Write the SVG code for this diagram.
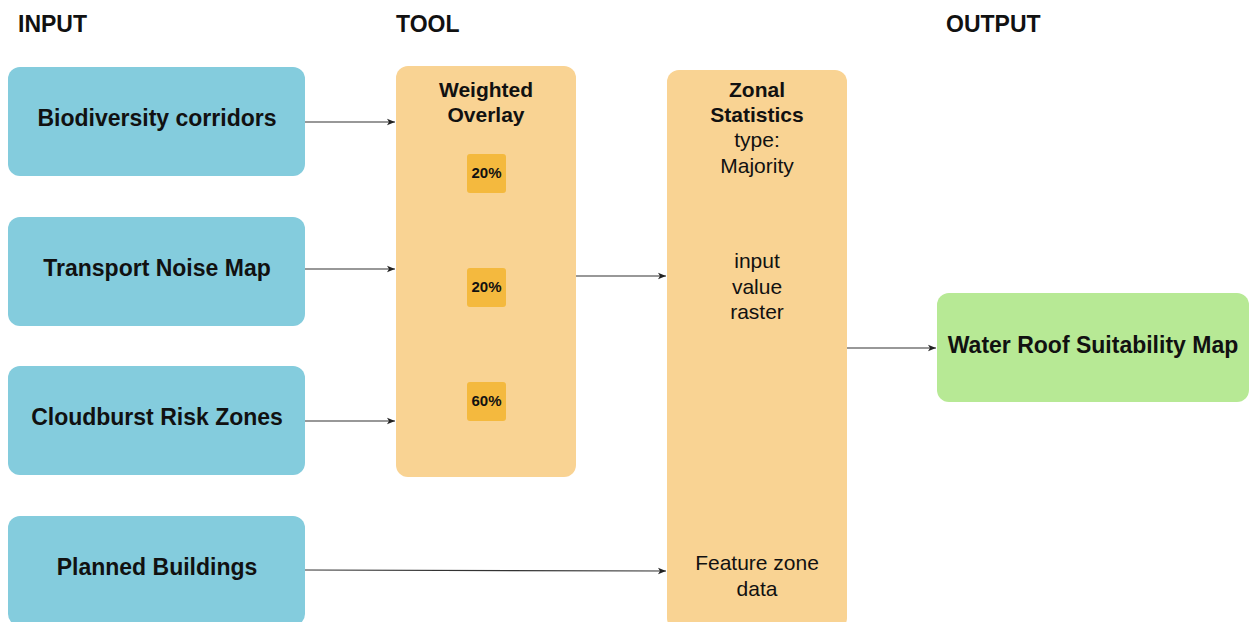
<svg xmlns="http://www.w3.org/2000/svg" width="1252" height="622" viewBox="0 0 1252 622">
  <style>
    text { font-family: "Liberation Sans", Arial, Helvetica, sans-serif; fill: #111; }
    .hdr { font-size: 23px; font-weight: bold; }
    .lbl { font-size: 23px; font-weight: bold; text-anchor: middle; }
    .ttl { font-size: 21px; font-weight: bold; text-anchor: middle; }
    .reg { font-size: 21px; text-anchor: middle; }
    .pct { font-size: 15px; font-weight: bold; text-anchor: middle; }
    .input { fill: #84CCDD; }
    .tool { fill: #F9D393; }
    .badge { fill: #F4B93E; }
    .output { fill: #B7E995; }
    .edge { stroke: #333; stroke-width: 1.2; fill: none; marker-end: url(#arrow); }
  </style>
  <defs>
    <marker id="arrow" viewBox="0 0 10 10" refX="10" refY="5" markerWidth="8" markerHeight="8" markerUnits="userSpaceOnUse" orient="auto">
      <path d="M0,1 L10,5 L0,9 L2.5,5 Z" fill="#222"/>
    </marker>
  </defs>

  <rect width="1252" height="622" fill="#fff"/>

  <!-- column headings -->
  <g id="headings">
    <text class="hdr" x="18" y="32">INPUT</text>
    <text class="hdr" x="396" y="32">TOOL</text>
    <text class="hdr" x="946" y="32">OUTPUT</text>
  </g>

  <!-- inputs -->
  <g id="biodiversity">
    <rect class="input" x="8" y="67" width="297" height="109" rx="12"/>
    <text class="lbl" x="157" y="126">Biodiversity corridors</text>
  </g>
  <g id="noise">
    <rect class="input" x="8" y="217" width="297" height="109" rx="12"/>
    <text class="lbl" x="157" y="276">Transport Noise Map</text>
  </g>
  <g id="cloudburst">
    <rect class="input" x="8" y="366" width="297" height="109" rx="12"/>
    <text class="lbl" x="157" y="425">Cloudburst Risk Zones</text>
  </g>
  <g id="buildings">
    <rect class="input" x="8" y="516" width="297" height="110" rx="12"/>
    <text class="lbl" x="157" y="575">Planned Buildings</text>
  </g>

  <!-- weighted overlay tool with weights -->
  <g id="weighted-overlay">
    <rect class="tool" x="396" y="66" width="180" height="411" rx="12"/>
    <text class="ttl" x="486" y="97">Weighted</text>
    <text class="ttl" x="486" y="122">Overlay</text>
    <rect class="badge" x="467" y="154" width="39" height="39" rx="3"/>
    <text class="pct" x="486.5" y="178">20%</text>
    <rect class="badge" x="467" y="268" width="39" height="39" rx="3"/>
    <text class="pct" x="486.5" y="292">20%</text>
    <rect class="badge" x="467" y="382" width="39" height="39" rx="3"/>
    <text class="pct" x="486.5" y="406">60%</text>
  </g>

  <!-- zonal statistics tool -->
  <g id="zonal-statistics">
    <rect class="tool" x="667" y="70" width="180" height="560" rx="12"/>
    <text class="ttl" x="757" y="97">Zonal</text>
    <text class="ttl" x="757" y="122">Statistics</text>
    <text class="reg" x="757" y="147">type:</text>
    <text class="reg" x="757" y="173">Majority</text>
    <text class="reg" x="757" y="268">input</text>
    <text class="reg" x="757" y="294">value</text>
    <text class="reg" x="757" y="319">raster</text>
    <text class="reg" x="757" y="570">Feature zone</text>
    <text class="reg" x="757" y="596">data</text>
  </g>

  <!-- result -->
  <g id="suitability-map">
    <rect class="output" x="937" y="293" width="312" height="109" rx="12"/>
    <text class="lbl" x="1093" y="353">Water Roof Suitability Map</text>
  </g>

  <!-- connectors -->
  <g id="connectors">
    <line class="edge" x1="305" y1="122" x2="395" y2="122"/>
    <line class="edge" x1="305" y1="269" x2="395" y2="269"/>
    <line class="edge" x1="305" y1="421" x2="395" y2="421"/>
    <line class="edge" x1="576" y1="276" x2="666" y2="276"/>
    <line class="edge" x1="305" y1="570" x2="666" y2="571"/>
    <line class="edge" x1="847" y1="348" x2="936" y2="348"/>
  </g>
</svg>
